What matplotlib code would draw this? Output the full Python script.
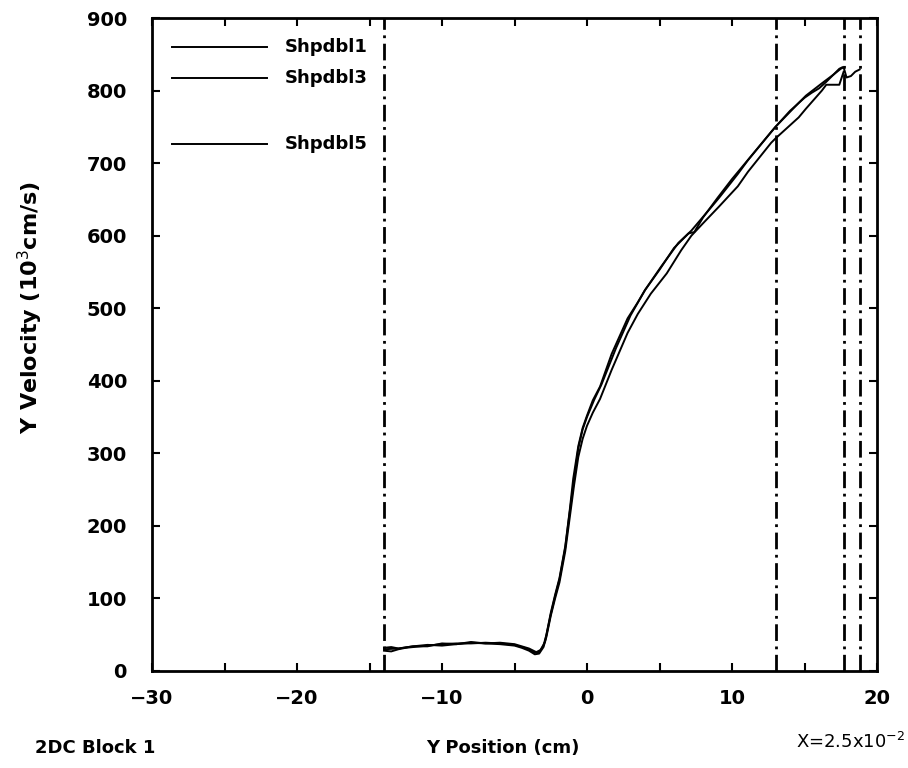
import matplotlib
matplotlib.use('Agg')
import matplotlib.pyplot as plt
import numpy as np

# Shpdbl1 (upper curve)
x1 = [-14.0, -13.5, -13.0, -12.5, -12.0, -11.0, -10.0, -9.0, -8.0, -7.0, -6.0, -5.0, -4.5, -4.0,
      -3.6, -3.3, -3.0, -2.8, -2.5, -2.2, -1.9, -1.5, -1.2, -0.95, -0.6, -0.3, 0.0, 0.4, 0.9,
      1.7, 2.8, 3.5, 4.0, 5.1, 6.3, 7.2, 8.6, 9.1, 10.4, 11.1, 12.7, 13.0, 14.6, 15.1, 16.2,
      17.0, 17.4, 17.6]
y1 = [28, 27, 30, 32, 33, 35, 37, 38, 38, 39, 38, 36, 33, 30,
      25, 26, 35, 50, 80, 105, 128, 172, 220, 265, 310, 335, 352, 373, 392,
      437, 486, 508, 525, 557, 590, 607, 640, 652, 685, 704, 743, 750, 783, 793, 810,
      822, 830, 832]

# Shpdbl3 (lower curve)
x3 = [-14.0, -13.5, -13.0, -12.0, -11.0, -10.0, -9.0, -8.0, -7.0, -6.0, -5.0, -4.5, -4.0,
      -3.6, -3.3, -3.0, -2.8, -2.5, -2.2, -1.9, -1.5, -1.2, -0.9, -0.6, -0.3, 0.0, 0.4, 0.9,
      1.7, 2.8, 3.5, 4.4, 5.5, 6.5, 7.2, 8.0, 9.1, 10.4, 11.1, 12.7, 13.0, 14.6, 15.1, 16.2,
      16.5, 17.4, 17.7]
y3 = [32, 33, 31, 34, 36, 35, 37, 39, 38, 37, 35, 32, 28,
      23, 24, 33, 47, 76, 100, 122, 165, 210, 255, 295, 320, 338, 356, 375,
      415, 466, 492, 520, 548, 580, 600, 617, 640, 668, 688, 728, 734, 763, 775, 800,
      808, 808, 826]

# Shpdbl5
x5 = [-14.0, -13.0, -12.0, -11.0, -10.0, -9.0, -8.0, -7.0, -6.0, -5.0, -4.0, -3.5, -3.2,
      -2.9, -2.5, -2.2, -1.9, -1.5, -1.2, -0.9, -0.6, -0.3, 0.0, 0.5, 1.0, 2.0, 3.0, 4.0,
      5.0, 6.0, 7.0, 7.4, 8.0, 9.0, 10.0, 11.0, 12.0, 13.0, 14.0, 15.0, 15.5, 16.0, 16.5,
      17.0, 17.5, 17.7, 17.9, 18.2, 18.5, 18.8]
y5 = [30, 31, 34, 34, 38, 37, 40, 38, 39, 37, 31, 26, 29,
      40, 78, 103, 126, 170, 218, 262, 307, 333, 350, 374, 395, 445, 490, 525,
      553, 583, 603, 605, 625, 652, 678, 702, 726, 750, 772, 790, 797, 803, 812,
      822, 830, 832, 818, 820, 826, 829]

vlines = [-14.0, 13.0, 17.7, 18.8]
labels = ['Shpdbl1', 'Shpdbl3', 'Shpdbl5']
legend_y = [0.956, 0.908, 0.807]

fig = plt.figure(figsize=(9.08, 7.68), dpi=100)
ax = fig.add_axes([152/908, 1-671/768, (877-152)/908, (671-18)/768])

for xs, ys in [(x1, y1), (x3, y3), (x5, y5)]:
    ax.plot(xs, ys, color='black', lw=1.4)

for v in vlines:
    ax.axvline(v, color='black', lw=2.0, dashes=(6, 2, 1, 2))

# legend drawn by hand (uneven spacing in the original)
for lab, ly in zip(labels, legend_y):
    ax.plot([0.028, 0.159], [ly, ly], transform=ax.transAxes, color='black', lw=1.4)
    ax.text(0.183, ly, lab, transform=ax.transAxes, va='center', ha='left',
            fontsize=13, fontweight='bold')

ax.set_xlim(-30, 20)
ax.set_ylim(0, 900)
ax.set_xticks(np.arange(-30, 21, 10))
ax.set_xticks(np.arange(-25, 20, 10), minor=True)
ax.set_yticks(np.arange(0, 901, 100))
ax.tick_params(which='both', direction='in', top=True, right=True, length=6, width=1.5)
ax.tick_params(axis='x', pad=13, labelsize=14)
ax.tick_params(axis='y', pad=18, labelsize=14)
for t in ax.get_xticklabels() + ax.get_yticklabels():
    t.set_fontweight('bold')
for s in ax.spines.values():
    s.set_linewidth(2)

fig.text(30/908, 1-308/768, 'Y Velocity (10$^3$cm/s)', rotation=90, ha='center', va='center',
         fontsize=16, fontweight='bold')
fig.text(35/908, 20/768, '2DC Block 1', ha='left', va='center', fontsize=13, fontweight='bold')
fig.text(503/908, 20/768, 'Y Position (cm)', ha='center', va='center', fontsize=13, fontweight='bold')
fig.text(905/908, 26/768, 'X=2.5x10$^{-2}$', ha='right', va='center', fontsize=13)

fig.savefig('out.png', dpi=100)
